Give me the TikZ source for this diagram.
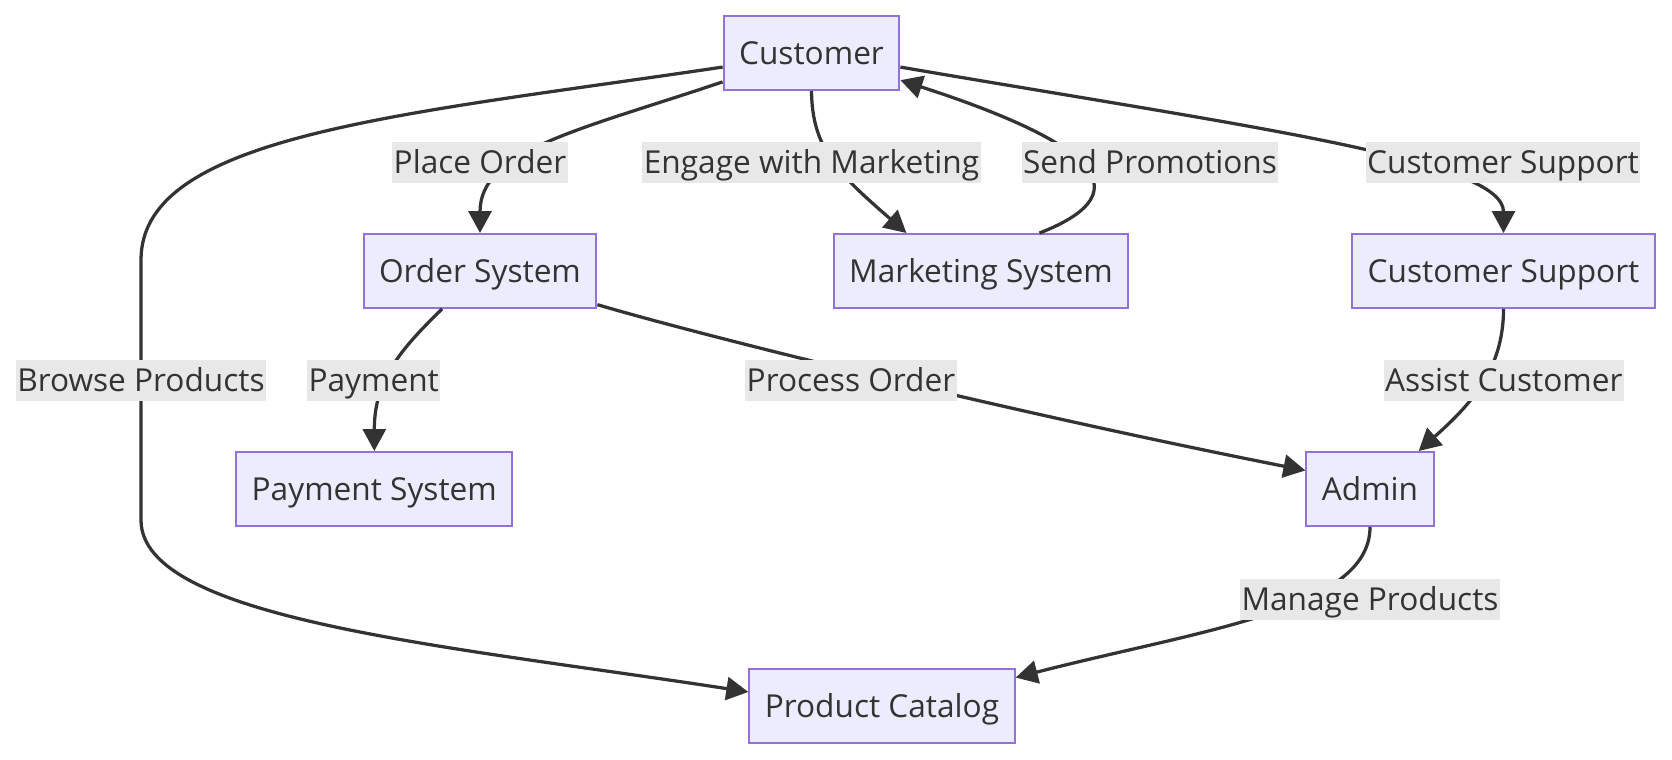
\documentclass[tikz,border=0pt]{standalone}
\usepackage{fontspec}
\setmainfont{Open Sans}
\usetikzlibrary{arrows.meta}
\definecolor{nodefill}{HTML}{ECECFF}
\definecolor{nodeline}{HTML}{9370DB}
\definecolor{ink}{HTML}{333333}
\definecolor{lblfill}{HTML}{E8E8E8}

\begin{document}
\begin{tikzpicture}[x=0.02cm, y=-0.02cm, >={Triangle[length=0.44cm, width=0.46cm]},
    font=\fontsize{18}{22}\selectfont,
    box/.style={draw=nodeline, fill=nodefill, line width=0.04cm, inner xsep=0.31cm, minimum height=1.48cm, text height=13pt, text depth=0pt, text=ink},
    lbl/.style={fill=lblfill, inner xsep=0.03cm, inner ysep=0pt, minimum height=0.82cm, text height=13pt, text depth=0pt, text=ink},
    link/.style={->, draw=ink, line width=0.065cm}]
    \useasboundingbox (0,0) rectangle (1672,760);

    % Systems
    \node[box] (cust) at (811.5,53) {Customer};
    \node[box] (ord) at (480,271) {Order System};
    \node[box] (mkt) at (981,271) {Marketing System};
    \node[box] (cs) at (1503.5,271) {Customer Support};
    \node[box] (pay) at (374.3,489) {Payment System};
    \node[box] (adm) at (1370,489) {Admin};
    \node[box] (pc) at (882,706) {Product Catalog};

    % Connectors
    \draw[link] (cust.198) .. controls (580,130) and (480,150) .. (ord.north);
    \draw[link] (cust.south) .. controls (812,150) and (840,175) .. (mkt.153);
    \draw[link] (mkt.33) .. controls (1150,190) and (1085,140) .. (cust.343);
    \draw[link] (cust.351) .. controls (1250,127) and (1503.5,160) .. (cs.north);
    \draw[link] (cust.189) .. controls (400,115) and (141,135) .. (141,260)
        -- (141,520) .. controls (141,620) and (450,646) .. (pc.174);
    \draw[link] (ord.225) .. controls (400,350) and (374.3,380) .. (pay.north);
    \draw[link] (ord.344) .. controls (700,335) and (1000,410) .. (adm.164);
    \draw[link] (cs.south) .. controls (1503.5,370) and (1470,405) .. (adm.38);
    \draw[link] (adm.south) .. controls (1370,610) and (1200,630) .. (pc.12);

    % Labels
    \node[lbl] (lplace) at (480,162.5) {Place Order};
    \node[lbl] (lengage) at (811.5,162.5) {Engage with Marketing};
    \node[lbl] (lpromo) at (1150,162.5) {Send Promotions};
    \node[lbl] (lsupport) at (1503,162.5) {Customer Support};
    \node[lbl] (lbrowse) at (141,380.5) {Browse Products};
    \node[lbl] (lpay) at (373.7,380.5) {Payment};
    \node[lbl] (lprocess) at (851,380.5) {Process Order};
    \node[lbl] (lassist) at (1503.7,380.5) {Assist Customer};
    \node[lbl] (lmanage) at (1370,599) {Manage Products};
\end{tikzpicture}
\end{document}
